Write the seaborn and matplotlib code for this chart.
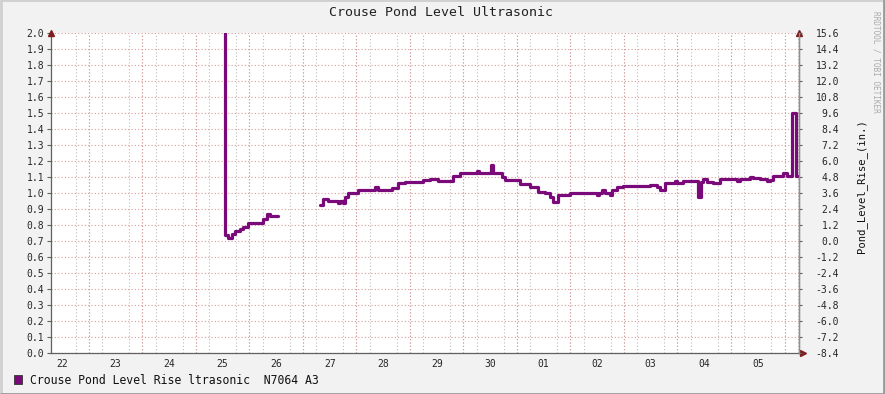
import numpy as np
import pandas as pd
import matplotlib
matplotlib.use('Agg')
import matplotlib.pyplot as plt
import matplotlib.dates as mdates
from matplotlib.patches import Rectangle
from matplotlib.lines import Line2D
import seaborn as sns

# hours since 2023-11-22 00:00, pond level (left axis units)
seg1_hours = [84.6, 85.0, 86.4, 88.2, 89.5, 91.7, 93.1, 95.3, 102.1, 103.8, 105.2, 108.8]
seg1_level = [2.3, 0.735, 0.72, 0.745, 0.76, 0.775, 0.79, 0.815, 0.84, 0.87, 0.856, 0.856]

seg2_hours = [127.6, 129.0, 131.2, 135.7, 136.6, 137.9, 138.8, 140.2, 144.7, 152.3,
              153.7, 159.9, 162.6, 165.8, 173.8, 177.0, 180.6, 187.3, 190.4, 198.1,
              199.0, 204.3, 205.2, 209.3, 210.6, 217.3, 221.8, 225.4, 228.6, 230.8,
              232.2, 234.4, 239.8, 251.9, 252.8, 254.1, 255.5, 257.7, 258.6, 260.8,
              263.5, 275.6, 278.8, 280.1, 282.3, 286.8, 287.7, 290.5, 297.2, 298.5,
              299.4, 301.2, 303.9, 307.1, 314.7, 316.1, 320.6, 321.9, 325.0, 328.2,
              329.5, 330.9, 335.4, 337.2, 339.4, 341.2, 342.5]
seg2_level = [0.925, 0.96, 0.95, 0.94, 0.95, 0.94, 0.977, 1.0, 1.02, 1.035,
              1.02, 1.03, 1.065, 1.07, 1.08, 1.09, 1.077, 1.106, 1.123, 1.14,
              1.125, 1.175, 1.123, 1.10, 1.081, 1.056, 1.035, 1.008, 1.0, 0.975,
              0.946, 0.988, 1.0, 0.99, 1.0, 1.02, 1.0, 0.985, 1.02, 1.035,
              1.044, 1.05, 1.04, 1.02, 1.06, 1.075, 1.06, 1.075, 0.977, 1.07,
              1.085, 1.07, 1.06, 1.0875, 1.075, 1.0875, 1.1, 1.095, 1.0875, 1.075,
              1.08, 1.106, 1.125, 1.106, 1.5, 1.106, 1.106]

start = pd.Timestamp('2023-11-22')
df = pd.DataFrame({
    'hours': seg1_hours + seg2_hours,
    'level': seg1_level + seg2_level,
    'segment': [1] * len(seg1_hours) + [2] * len(seg2_hours),
})
df['time'] = start + pd.to_timedelta(df['hours'], unit='h')

sns.set_style('white')
plt.rcParams['font.family'] = ['DejaVu Sans Mono']

line_color = '#7a0a7a'
major_grid = '#d99c9c'
minor_grid = '#bdbdbd'
axis_col = '#606060'
arrow_col = '#7f1f1f'

fig = plt.figure(figsize=(8.85, 3.94), dpi=100, facecolor='#f2f2f2')
ax = fig.add_axes([51 / 885, 41 / 394, 748 / 885, 320 / 394])
ax.set_facecolor('white')

x0 = start + pd.Timedelta(hours=7.0)
x1 = start + pd.Timedelta(hours=342.5)

# midnight lines
for d in pd.date_range('2023-11-23', '2023-12-06', freq='D'):
    ax.axvline(d, color=major_grid, ls=(0, (1, 2)), lw=0.8, zorder=0.6)

sns.lineplot(data=df, x='time', y='level', units='segment', estimator=None,
             color=line_color, lw=2.3, drawstyle='steps-post', ax=ax,
             legend=False, zorder=3)

ax.set_xlim(x0, x1)
ax.set_ylim(0, 2.0)
ax.set_yticks(np.arange(0, 2.01, 0.1))
ax.yaxis.set_major_formatter(matplotlib.ticker.FormatStrFormatter('%.1f'))
ax.xaxis.set_major_locator(mdates.HourLocator(byhour=12))
ax.xaxis.set_major_formatter(mdates.DateFormatter('%d'))
ax.xaxis.set_minor_locator(mdates.HourLocator(byhour=[0, 6, 12, 18]))
ax.set_xlabel('')
ax.set_ylabel('')

ax.grid(True, axis='y', which='major', color=major_grid, ls=(0, (1, 2)), lw=0.8)
ax.grid(True, axis='x', which='minor', color=minor_grid, ls=(0, (1, 2)), lw=0.8)
ax.grid(False, axis='x', which='major')
ax.set_axisbelow(True)

ax.tick_params(axis='y', length=3, width=0.8, color=axis_col, pad=2, labelsize=7)
ax.tick_params(axis='x', which='major', length=0, pad=4, labelsize=7)
ax.tick_params(axis='x', which='minor', length=2, width=0.6, color='#b0b0b0')

ax.spines['top'].set_visible(False)
for s in ['left', 'bottom', 'right']:
    ax.spines[s].set_color(axis_col)
    ax.spines[s].set_linewidth(0.9)

# right axis
ax2 = ax.twinx()
ax2.set_ylim(-8.4, 15.6)
ax2.set_yticks(np.arange(-8.4, 15.61, 1.2))
ax2.yaxis.set_major_formatter(matplotlib.ticker.FormatStrFormatter('%.1f'))
ax2.tick_params(axis='y', length=2, width=0.8, color=axis_col, pad=27, labelsize=7)
for lbl in ax2.get_yticklabels():
    lbl.set_horizontalalignment('right')
for s in ['top', 'left', 'bottom']:
    ax2.spines[s].set_visible(False)
ax2.spines['right'].set_color('#909090')
ax2.spines['right'].set_linewidth(0.9)

# axis arrows
ax.plot([0], [1.0], marker='^', ms=4, color=arrow_col, transform=ax.transAxes,
        clip_on=False, zorder=5)
ax.plot([1], [1.0], marker='^', ms=4, color=arrow_col, transform=ax.transAxes,
        clip_on=False, zorder=5)
ax.plot([1.005], [0], marker='>', ms=4, color=arrow_col, transform=ax.transAxes,
        clip_on=False, zorder=5)

fig.text(441 / 885, 1 - 13 / 394, 'Crouse Pond Level Ultrasonic', ha='center',
         va='center', fontsize=9.5, color='#222222')
fig.text(862 / 885, 1 - 186 / 394, 'Pond_Level_Rise_(in.)', rotation=90,
         ha='center', va='center', fontsize=7.6, color='#111111')
fig.text(876 / 885, 1 - 62 / 394, 'RRDTOOL / TOBI OETIKER', rotation=270,
         ha='center', va='center', fontsize=5.6, color='#aaaaaa')

# legend
fig.patches.append(Rectangle((14 / 885, 1 - 384 / 394), 8 / 885, 9 / 394,
                             transform=fig.transFigure, facecolor=line_color,
                             edgecolor='#333333', lw=0.6))
fig.text(30 / 885, 1 - 380 / 394, 'Crouse Pond Level Rise ltrasonic  N7064 A3',
         ha='left', va='center', fontsize=8.3, color='#111111')

# frame
fig.lines.append(Line2D([0.001, 0.001, 0.999], [0.001, 0.999, 0.999],
                        transform=fig.transFigure, color='#d0d0d0', lw=2))
fig.lines.append(Line2D([0.001, 0.999, 0.999], [0.001, 0.001, 0.999],
                        transform=fig.transFigure, color='#9a9a9a', lw=2))

fig.savefig('out.png', dpi=100, facecolor=fig.get_facecolor())
